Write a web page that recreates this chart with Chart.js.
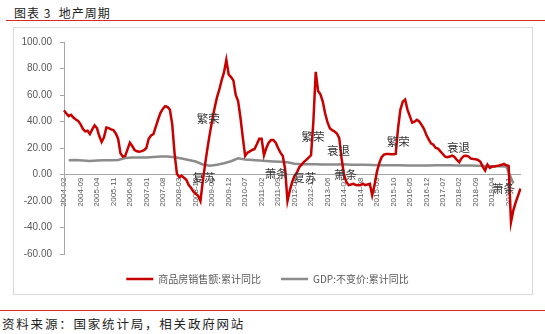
<!DOCTYPE html>
<html>
<head>
<meta charset="utf-8">
<script src="https://cdn.jsdelivr.net/npm/chart.js@4.4.0/dist/chart.umd.min.js"></script>
<style>
  html, body { margin: 0; padding: 0; background: #fff; }
  body { width: 545px; height: 334px; position: relative; overflow: hidden; font-family: "Noto Sans CJK SC", sans-serif; }
  #title { position: absolute; left: 14px; top: 4px; font-size: 12px; line-height: 17px; letter-spacing: 1px; color: #222; white-space: pre; }
  #titleRule { position: absolute; left: 6px; right: 0; top: 20px; height: 1px; background: #d42a2a; }
  #box { position: absolute; left: 13px; top: 27px; width: 520px; height: 268px; border: 1px solid #d9d9d9; box-sizing: border-box; }
  #wrap { position: absolute; left: 14px; top: 28px; width: 519px; height: 266px; }
  #srcRule { position: absolute; left: 0; right: 0; top: 310px; height: 1px; background: #d42a2a; }
  #source { position: absolute; left: 2px; top: 315px; font-size: 12.5px; line-height: 18px; letter-spacing: 1.8px; color: #222; }
</style>
</head>
<body>
<div id="title">图表 3  地产周期</div>
<div id="titleRule"></div>
<div id="box"></div>
<div id="wrap"><canvas id="myChart"></canvas></div>
<div id="srcRule"></div>
<div id="source">资料来源：国家统计局，相关政府网站</div>

<script>
// monthly, starting 2004-02
const startYear = 2004;
const startMonth = 2;

// 商品房销售额:累计同比 (%)
const salesYoY = [
  48.4, 46, 44, 45, 43, 41.5, 40.5, 38, 34.5, 32.5, 33, 30.5,
  34, 37, 35, 29, 24.5, 28, 35.5, 35, 34, 33.5, 31, 27,
  16, 13.5, 14, 19, 24, 21.5, 18.5, 17.5, 17.2, 17.6, 18.4, 20,
  27, 29.5, 30.5, 36, 41.5, 46.5, 49.5, 51.5, 51, 49, 38, 16,
  0.5, -2, -1, -2.5, -4, -8, -10, -13, -14.5, -16, -20, -5,
  8, 20, 31, 41, 50, 58, 64, 71, 77, 86.5, 75.5, 73.5,
  71, 60, 55.4, 43, 28, 14, 16.5, 17.5, 18.5, 19.3, 23, 27,
  27, 14.5, 20, 24, 26, 26, 24, 20, 16.5, 14, 4, -20,
  -12, -5.5, -1, 1.5, 5.5, 7.5, 9.5, 11, 12.8, 14.5, 40, 77.5,
  63, 60.5, 55, 46, 39.5, 35, 33.5, 32.5, 31, 27.5, 12, 0,
  -5.5, -8, -7.5, -7, -8, -8.2, -8, -7, -8, -7.5, -7, -15.7,
  -8, 2, 8.5, 13, 15, 15.5, 15.5, 15.3, 15.3, 15.5, 35, 49,
  55, 56.6, 49, 44, 39.2, 39.8, 41.3, 40, 37.5, 34.5, 30, 26.5,
  23.5, 22.5, 20, 19.5, 17.5, 15.5, 13.5, 13, 13.6, 14.2, 13.2, 11,
  9.3, 12.3, 14, 14.2, 13.5, 12, 11.7, 11.5, 11, 9.5, 6, 3,
  7.5, 5, 6, 6.1, 6.5, 6.8, 7.3, 8, 7, 6.5, -36, -27,
  -21, -16, -10.7
];

// GDP:不变价:累计同比 (%), quarterly points
const gdpFirstIndex = 2;
const gdpStep = 3;
const gdpQuarterly = [
  10.8, 10.9, 10.6, 10.2, 10.5, 10.8, 10.7, 11.0,
  12.4, 12.8, 12.9, 12.9, 13.2, 13.5, 13.5, 13.0,
  12.0, 11.0, 9.8, 7.6, 6.7, 7.4, 8.5, 10.0,
  12.2, 11.4, 10.9, 10.5, 10.2, 9.9, 9.6, 9.2,
  8.1, 7.8, 7.7, 7.8, 7.6, 7.5, 7.6, 7.7,
  7.4, 7.4, 7.3, 7.2, 7.0, 7.0, 6.9, 6.9,
  6.7, 6.7, 6.7, 6.8, 6.9, 6.9, 6.9, 6.8,
  6.8, 6.7, 6.6, 6.4, 6.3, 6.2, 6.1, -6.8
];

// cycle phase notes (category index, value)
const phaseText = ["繁荣", "复苏", "萧条", "复苏", "繁荣", "衰退", "萧条", "繁荣", "衰退", "萧条"];
const phaseIndex = [61.3, 59.5, 90.2, 102.3, 105.8, 116.7, 119.7, 142.1, 167.7, 186.8];
const phaseValue = [42.5, -2.1, 0.9, -2.1, 28.4, 18, 0, 25, 20, -10.7];

const labelStep = 7;

const months = [];
for (let k = 0; k < salesYoY.length; k++) {
  const m = startMonth - 1 + k;
  months.push(`${startYear + Math.floor(m / 12)}-${String((m % 12) + 1).padStart(2, "0")}`);
}

const gdpMonthly = months.map(() => null);
gdpQuarterly.forEach((v, q) => {
  gdpMonthly[gdpFirstIndex + q * gdpStep] = v;
});

const colors = {
  sales: "#c80000",
  gdp: "#8c8c8c",
  axis: "#a6a6a6",
  text: "#595959",
};

const phaseNotes = {
  id: "phaseNotes",
  afterDatasetsDraw(chart) {
    const { ctx, scales } = chart;
    ctx.save();
    ctx.font = '11.5px "Noto Sans CJK SC"';
    ctx.fillStyle = "#333";
    ctx.textAlign = "center";
    ctx.textBaseline = "middle";
    phaseText.forEach((t, i) => {
      ctx.fillText(t, scales.x.getPixelForValue(phaseIndex[i]), scales.y.getPixelForValue(phaseValue[i]));
    });
    ctx.restore();
  },
};

const ctx = document.getElementById("myChart").getContext("2d");
new Chart(ctx, {
  type: "line",
  data: {
    labels: months,
    datasets: [
      {
        label: "商品房销售额:累计同比",
        data: salesYoY,
        borderColor: colors.sales,
        backgroundColor: colors.sales,
        borderWidth: 2.5,
        pointRadius: 0,
        tension: 0,
        fill: false,
      },
      {
        label: "GDP:不变价:累计同比",
        data: gdpMonthly,
        borderColor: colors.gdp,
        backgroundColor: colors.gdp,
        borderWidth: 2.5,
        pointRadius: 0,
        tension: 0,
        spanGaps: true,
        fill: false,
      },
    ],
  },
  options: {
    responsive: true,
    maintainAspectRatio: false,
    animation: false,
    layout: { padding: { top: 7, right: 12, bottom: 0, left: 0 } },
    plugins: {
      legend: {
        position: "bottom",
        labels: {
          boxWidth: 27,
          boxHeight: 0,
          padding: 20,
          color: colors.text,
          font: { size: 10, family: '"Noto Sans CJK SC", sans-serif' },
        },
      },
      tooltip: { enabled: false },
    },
    scales: {
      x: {
        position: { y: 0 },
        grid: { display: true, drawOnChartArea: false, drawTicks: false },
        border: { color: colors.axis, width: 1 },
        ticks: {
          autoSkip: false,
          minRotation: 90,
          maxRotation: 90,
          padding: 3,
          color: colors.text,
          font: { size: 8, family: '"Liberation Sans", sans-serif' },
          callback(v, i) {
            return i % labelStep === 0 ? this.getLabelForValue(v) : "";
          },
        },
      },
      y: {
        min: -60,
        max: 100,
        ticks: {
          stepSize: 20,
          padding: 8,
          color: colors.text,
          font: { size: 10, family: '"Liberation Sans", sans-serif' },
          callback: (v) => v.toFixed(2),
        },
        grid: { drawOnChartArea: false, tickLength: 4, color: colors.axis },
        border: { color: colors.axis },
        afterFit(scale) {
          scale.width = 50;
        },
      },
    },
  },
  plugins: [phaseNotes],
});
</script>
</body>
</html>
